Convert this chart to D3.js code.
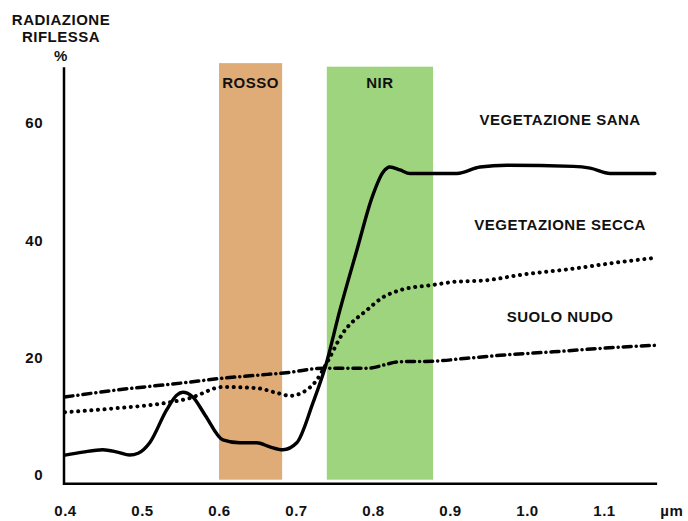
<!DOCTYPE html>
<html>
<head>
<meta charset="utf-8">
<script src="https://cdn.jsdelivr.net/npm/d3@7/dist/d3.min.js"></script>
<style>
  html, body { margin: 0; padding: 0; background: #fff; }
  svg text { font-family: "Liberation Sans", Arial, sans-serif; font-weight: bold; fill: #111; letter-spacing: 0.5px; }
</style>
</head>
<body>
<svg id="chart" width="688" height="521"></svg>
<script>
// ---- data ----
const xTicks = [0.4, 0.5, 0.6, 0.7, 0.8, 0.9, 1.0, 1.1];
const xTickLabels = ["0.4", "0.5", "0.6", "0.7", "0.8", "0.9", "1.0", "1.1"];
const yTicks = [0, 20, 40, 60];
const yTitle = ["RADIAZIONE", "RIFLESSA", "%"];
const unitLabel = "µm";

const bands = [
  { name: "ROSSO", from: 0.600, to: 0.682 },
  { name: "NIR", from: 0.740, to: 0.878 }
];

const sanaX = [0.400, 0.423, 0.449, 0.468, 0.484, 0.495, 0.510, 0.532, 0.545, 0.553, 0.566, 0.582, 0.605, 0.627, 0.649, 0.666, 0.683, 0.701, 0.722, 0.738, 0.757, 0.779, 0.799, 0.813, 0.822, 0.835, 0.848, 0.878, 0.909, 0.939, 0.974, 1.060, 1.082, 1.108, 1.166];
const sanaY = [3.4, 3.9, 4.3, 3.9, 3.4, 3.7, 5.5, 11.1, 13.6, 14.1, 13.3, 10.2, 6.0, 5.5, 5.5, 4.8, 4.3, 5.5, 12.3, 18.4, 28.1, 38.3, 47.4, 51.6, 52.5, 52.0, 51.4, 51.4, 51.4, 52.5, 52.8, 52.6, 52.3, 51.4, 51.4];

const seccaX = [0.400, 0.468, 0.532, 0.562, 0.605, 0.649, 0.675, 0.692, 0.709, 0.727, 0.740, 0.761, 0.792, 0.813, 0.835, 0.878, 0.904, 0.948, 0.991, 1.056, 1.121, 1.166];
const seccaY = [10.7, 11.4, 12.3, 13.1, 15.0, 14.8, 14.0, 13.5, 14.1, 16.2, 19.1, 24.2, 28.1, 30.3, 31.5, 32.4, 32.9, 33.2, 34.1, 35.1, 36.3, 37.0];

const suoloX = [0.400, 0.468, 0.553, 0.605, 0.649, 0.692, 0.735, 0.792, 0.835, 0.878, 0.922, 0.965, 1.034, 1.121, 1.166];
const suoloY = [13.3, 14.5, 15.7, 16.5, 17.0, 17.5, 18.2, 18.2, 19.3, 19.4, 19.9, 20.4, 21.0, 21.8, 22.1];

const seriesNames = ["VEGETAZIONE SANA", "VEGETAZIONE SECCA", "SUOLO NUDO"];
const seriesLabelY = [60.3, 42.4, 26.8];

// ---- layout ----
const svg = d3.select("#chart");
const x = d3.scaleLinear().domain([0.4, 1.1]).range([65, 604]);
const y = d3.scaleLinear().domain([0, 60]).range([475, 123]);

const axisY = y(-1.5);      // horizontal axis line position
const topY = y(69.5);       // top of vertical axis
const xEnd = x(1.169);
const FS = 15;

// bands
const bandColors = { "ROSSO": "#dfab76", "NIR": "#9fd47e" };
const bandTop = [70.2, 69.6];
svg.selectAll("rect.band").data(bands).enter().append("rect")
  .attr("class", "band")
  .attr("x", d => x(d.from))
  .attr("width", d => x(d.to) - x(d.from))
  .attr("y", (d, i) => y(bandTop[i]))
  .attr("height", (d, i) => y(-0.8) - y(bandTop[i]))
  .attr("fill", d => bandColors[d.name]);

svg.selectAll("text.bandlabel").data(bands).enter().append("text")
  .attr("class", "bandlabel")
  .attr("x", d => (x(d.from) + x(d.to)) / 2)
  .attr("y", y(66.6))
  .attr("text-anchor", "middle")
  .attr("dominant-baseline", "middle")
  .attr("font-size", FS)
  .text(d => d.name);

// axes lines
svg.append("line").attr("x1", x(0.4) - 1).attr("x2", x(0.4) - 1)
  .attr("y1", topY).attr("y2", axisY + 1.2)
  .attr("stroke", "#000").attr("stroke-width", 2.5);
svg.append("line").attr("x1", x(0.4) - 1).attr("x2", xEnd)
  .attr("y1", axisY).attr("y2", axisY)
  .attr("stroke", "#000").attr("stroke-width", 2.5);

const styleTicks = g => g.selectAll("text")
  .attr("font-size", FS).attr("font-family", null)
  .style("font-family", "'Liberation Sans', Arial, sans-serif").attr("fill", "#111");

// y tick labels
const gy = svg.append("g").attr("transform", `translate(${x(0.4) - 1},0)`)
  .call(d3.axisLeft(y).tickValues(yTicks).tickSize(0).tickPadding(21).tickFormat(d3.format("d")));
gy.select(".domain").remove();
styleTicks(gy);

// x tick labels
const gx = svg.append("g").attr("transform", `translate(0,${axisY})`)
  .call(d3.axisBottom(x).tickValues(xTicks).tickSize(0).tickPadding(22)
    .tickFormat((d, i) => xTickLabels[i]));
gx.select(".domain").remove();
styleTicks(gx);
gx.append("text").attr("x", x(1.188)).attr("y", 22).attr("dy", "0.71em")
  .attr("text-anchor", "middle").attr("font-size", FS).text(unitLabel);

// y title
svg.selectAll("text.ytitle").data(yTitle).enter().append("text")
  .attr("class", "ytitle")
  .attr("x", 61)
  .attr("y", (d, i) => [21, 38, 57][i])
  .attr("text-anchor", "middle")
  .attr("dominant-baseline", "middle")
  .attr("font-size", FS)
  .text(d => d);

// curves
const line = d3.line().x(d => x(d[0])).y(d => y(d[1])).curve(d3.curveMonotoneX);
const series = [
  { name: seriesNames[0], pts: d3.zip(sanaX, sanaY), dash: null, width: 3.4 },
  { name: seriesNames[1], pts: d3.zip(seccaX, seccaY), dash: "0.1 6.5", width: 4 },
  { name: seriesNames[2], pts: d3.zip(suoloX, suoloY), dash: "8 5 0.1 5", width: 3.5 }
];
svg.selectAll("path.series").data(series).enter().append("path")
  .attr("class", "series")
  .attr("d", d => line(d.pts))
  .attr("fill", "none")
  .attr("stroke", "#000")
  .attr("stroke-width", d => d.width)
  .attr("stroke-linecap", "round")
  .attr("stroke-linejoin", "round")
  .attr("stroke-dasharray", d => d.dash);

// series labels
svg.selectAll("text.slabel").data(seriesNames).enter().append("text")
  .attr("class", "slabel")
  .attr("x", x(1.043))
  .attr("y", (d, i) => y(seriesLabelY[i]))
  .attr("text-anchor", "middle")
  .attr("dominant-baseline", "middle")
  .attr("font-size", FS)
  .text(d => d);
</script>
</body>
</html>
